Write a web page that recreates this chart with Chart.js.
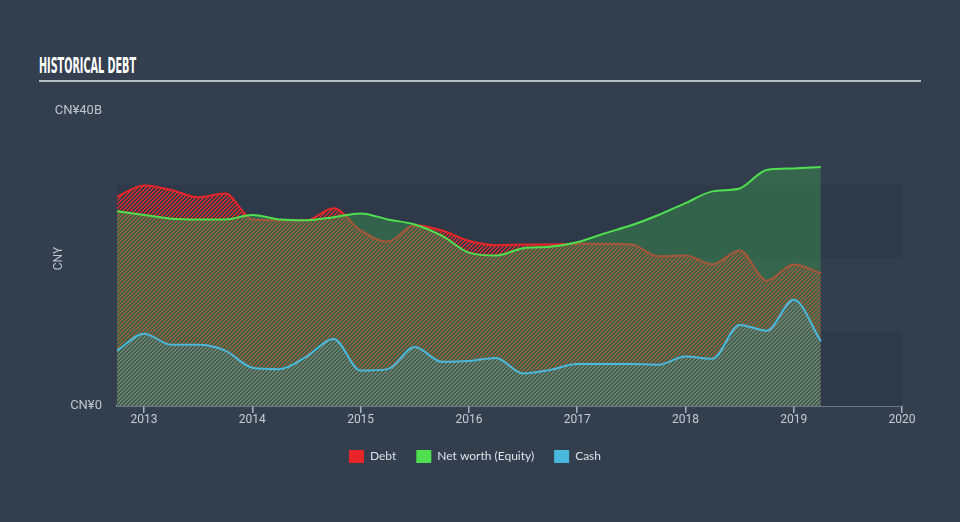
<!DOCTYPE html>
<html>
<head>
<meta charset="utf-8">
<script src="https://cdn.jsdelivr.net/npm/chart.js@4"></script>
<style>
    body { margin: 0; background: #333f4f; width: 960px; height: 522px; overflow: hidden; position: relative; }
    #title { position: absolute; left: 39px; top: 54px; color: #fff; font: bold 21px 'Liberation Sans Narrow', 'DejaVu Sans Condensed', sans-serif; transform-origin: 0 0; white-space: nowrap; }
    #rule { position: absolute; left: 39px; top: 80px; width: 882px; height: 2px; background: #b8bdc5; }
    #wrap { position: absolute; left: 0; top: 0; width: 960px; height: 522px; }
</style>
</head>
<body>
<div id="title">HISTORICAL DEBT</div>
<div id="rule"></div>
<div id="wrap"><canvas id="debtChart" width="960" height="522"></canvas></div>
<script>
// quarter ends, as fractional years
const quarters = [
    2012.75, 2013, 2013.25, 2013.5, 2013.75, 2014, 2014.25, 2014.5, 2014.75,
    2015, 2015.25, 2015.5, 2015.75, 2016, 2016.25, 2016.5, 2016.75,
    2017, 2017.25, 2017.5, 2017.75, 2018, 2018.25, 2018.5, 2018.75, 2019, 2019.25
];
// values in CN¥ billions
const debt = [
    28.4, 29.9, 29.3, 28.3, 28.8, 25.3, 25.2, 25.2, 26.8,
    23.8, 22.3, 24.5, 23.8, 22.4, 21.8, 21.9, 21.9,
    22.0, 22.0, 21.9, 20.3, 20.4, 19.2, 21.1, 17.0, 19.2, 18.0
];
const equity = [
    26.4, 25.9, 25.4, 25.3, 25.3, 25.9, 25.3, 25.2, 25.6,
    26.1, 25.3, 24.6, 23.1, 20.8, 20.4, 21.4, 21.6,
    22.2, 23.4, 24.5, 25.9, 27.5, 29.1, 29.5, 32.0, 32.2, 32.4
];
const cash = [
    7.5, 9.8, 8.3, 8.3, 7.5, 5.2, 5.0, 6.7, 9.1,
    4.8, 5.0, 8.0, 6.0, 6.1, 6.5, 4.4, 4.9,
    5.7, 5.7, 5.7, 5.6, 6.7, 6.4, 11.0, 10.2, 14.4, 8.8
];
const xTicks = [2013, 2014, 2015, 2016, 2017, 2018, 2019, 2020];
const yTicks = [0, 40];
const yTickLabels = ['CN¥0', 'CN¥40B'];
const bands = [[0, 10], [20, 30]];

// squeeze the title into the narrow condensed look
const title = document.getElementById('title');
title.style.transform = `scaleX(${97 / title.getBoundingClientRect().width})`;

const hatch = (color) => {
    const tile = document.createElement('canvas');
    tile.width = 4; tile.height = 4;
    const g = tile.getContext('2d');
    g.fillStyle = color;
    for (let x = 0; x < 4; x++) {
        for (let y = 0; y < 4; y++) {
            if ((x + y) % 4 < 2) g.fillRect(x, y, 1, 1);
        }
    }
    return document.createElement('canvas').getContext('2d').createPattern(tile, 'repeat');
};

const toPoints = (vals) => vals.map((v, i) => ({ x: quarters[i], y: v }));

const bandPlugin = {
    id: 'bands',
    beforeDatasetsDraw(chart) {
        const { ctx, chartArea, scales: { y } } = chart;
        ctx.save();
        ctx.fillStyle = '#2e3a49';
        bands.forEach(([a, b]) => {
            const top = y.getPixelForValue(b);
            const bottom = y.getPixelForValue(a);
            ctx.fillRect(chartArea.left, top, chartArea.right - chartArea.left, bottom - top);
        });
        ctx.restore();
    }
};

const solid = ['#e8262a', '#4fe04f', '#4ab8dc'];

new Chart(document.getElementById('debtChart'), {
    type: 'line',
    data: {
        datasets: [
            {
                label: 'Debt',
                data: toPoints(debt),
                borderColor: '#e8262a',
                backgroundColor: hatch('rgba(232, 44, 40, 0.85)'),
                fill: 'origin',
                order: 3,
            },
            {
                label: 'Net worth (Equity)',
                data: toPoints(equity),
                borderColor: '#4fe04f',
                backgroundColor: 'rgba(63, 163, 79, 0.4)',
                fill: 'origin',
                order: 2,
            },
            {
                label: 'Cash',
                data: toPoints(cash),
                borderColor: '#4ab8dc',
                backgroundColor: hatch('rgba(76, 184, 220, 0.35)'),
                fill: 'origin',
                order: 1,
            }
        ]
    },
    options: {
        responsive: false,
        animation: false,
        maintainAspectRatio: false,
        devicePixelRatio: 1,
        layout: { padding: { left: 48, right: 58, top: 111, bottom: 49 } },
        elements: {
            line: { borderWidth: 2, cubicInterpolationMode: 'monotone' },
            point: { radius: 0 }
        },
        scales: {
            x: {
                type: 'linear',
                min: 2012.75,
                max: 2020,
                afterBuildTicks: (s) => { s.ticks = xTicks.map(v => ({ value: v })); },
                afterFit: (s) => { s.height = 24; },
                ticks: {
                    color: '#c8ccd2',
                    font: { family: 'Roboto', size: 12 },
                    padding: 0,
                    maxRotation: 0,
                    autoSkip: false,
                    callback: (v) => String(v)
                },
                grid: { drawOnChartArea: false, color: '#aab2bd', tickLength: 7, lineWidth: 1.5 },
                border: { color: '#aab2bd', width: 1.5 }
            },
            y: {
                min: 0,
                max: 40,
                afterBuildTicks: (s) => { s.ticks = yTicks.map(v => ({ value: v })); },
                afterFit: (s) => { s.width = 69; },
                ticks: {
                    color: '#bfc4cb',
                    font: { family: 'Roboto', size: 13 },
                    padding: 15,
                    callback: (v) => yTickLabels[yTicks.indexOf(v)]
                },
                grid: { display: false, drawTicks: false },
                border: { display: false },
                title: {
                    display: true,
                    text: 'CNY',
                    color: '#bfc4cb',
                    font: { family: 'Roboto', size: 12 }
                }
            }
        },
        plugins: {
            tooltip: { enabled: false },
            legend: {
                position: 'bottom',
                labels: {
                    color: '#dde0e4',
                    font: { family: 'Lato', size: 12 },
                    boxWidth: 15,
                    boxHeight: 13,
                    padding: 20,
                    sort: (a, b) => a.datasetIndex - b.datasetIndex,
                    generateLabels: (chart) => Chart.defaults.plugins.legend.labels.generateLabels(chart).map(item => ({
                        ...item,
                        fillStyle: solid[item.datasetIndex],
                        strokeStyle: solid[item.datasetIndex],
                        lineWidth: 0
                    }))
                }
            }
        }
    },
    plugins: [bandPlugin]
});
</script>
</body>
</html>
